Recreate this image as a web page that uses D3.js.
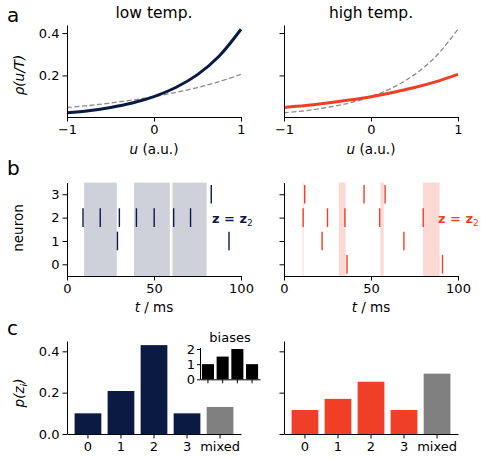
<!DOCTYPE html>
<meta charset="utf-8">
<style>
body { margin: 0; background: #fff; }
svg { display: block; }
text { font-family: "DejaVu Sans", sans-serif; fill: #000; }
.tick text { font-size: 13px; }
.tick line, .domain { stroke: #000; stroke-width: 1; }
.title { font-size: 15.5px; }
.lab { font-size: 13.5px; }
.letter { font-size: 20px; }
</style>
<body>
<script src="https://d3js.org/d3.v7.min.js"></script>
<script>

var navy = "#0b1a42",
    red = "#ef3f26",
    grey = "#808080";

// panel a: firing curves
var uVals = [-1, -0.75, -0.5, -0.25, 0, 0.25, 0.5, 0.75, 1];
var rhoLow = [0.024, 0.034, 0.049, 0.070, 0.100, 0.143, 0.204, 0.292, 0.418];
var rhoHigh = [0.049, 0.058, 0.070, 0.084, 0.100, 0.120, 0.143, 0.171, 0.205];

// panel b: spikes and shaded z = z2 windows
var lowSpikeT = [9.2, 19.1, 30.1, 39.9, 50.1, 61.3, 71, 29, 93.1, 82.9];
var lowSpikeN = [2, 2, 2, 2, 2, 2, 2, 1, 1, 3];
var highSpikeT = [11.9, 46, 58.1, 11, 25, 35, 55, 80, 21.9, 68.9, 36.2, 91.1];
var highSpikeN = [3, 3, 3, 2, 2, 2, 2, 2, 1, 1, 0, 0];
var lowShadeStart = [9.8, 38.5, 60.6], lowShadeEnd = [28.6, 59.1, 80.2];
var highShadeStart = [10.7, 31.5, 55.4, 79.8], highShadeEnd = [11.3, 35.4, 57.3, 89.4];

// panel c: state probabilities
var states = ["0", "1", "2", "3", "mixed"];
var pLow = [0.10, 0.208, 0.43, 0.10, 0.131];
var pHigh = [0.116, 0.17, 0.253, 0.116, 0.292];
var biasIdx = ["0", "1", "2", "3"];
var biases = [1, 1.5, 2, 1];

var svg = d3.select("body").append("svg")
    .attr("width", 481).attr("height", 459);

var cols = [[67, 241], [284, 458]];
var zLabelX = [212, 438];

function styleAxis(g) {
  g.selectAll(".tick text").attr("fill", "#000");
  return g;
}
var minus = function(d) { return d < 0 ? "\u2212" + Math.abs(d) : "" + d; };

/* ------- PANEL a ------- */
var ya = d3.scaleLinear().domain([0.004, 0.438]).range([117, 25]);
[0, 1].forEach(function(c) {
  var x = d3.scaleLinear().domain([-1, 1]).range(cols[c]);
  var g = svg.append("g");
  var line = d3.line().x(function(d, i) { return x(uVals[i]); })
      .y(function(d) { return ya(d); }).curve(d3.curveCatmullRom);
  var main = c == 0 ? rhoLow : rhoHigh, other = c == 0 ? rhoHigh : rhoLow;
  g.append("path").attr("d", line(other)).attr("fill", "none")
      .attr("stroke", "#8c8c8c").attr("stroke-width", 1.3).attr("stroke-dasharray", "5,2.5");
  g.append("path").attr("d", line(main)).attr("fill", "none")
      .attr("stroke", c == 0 ? navy : red).attr("stroke-width", 3);
  g.append("g").attr("transform", "translate(0,117)")
      .call(d3.axisBottom(x).tickValues([-1, 0, 1]).tickFormat(minus).tickSize(4.5).tickSizeOuter(0).tickPadding(3))
      .call(styleAxis);
  g.append("g").attr("transform", "translate(" + cols[c][0] + ",0)")
      .call(d3.axisLeft(ya).tickValues([0.2, 0.4]).tickFormat(c == 0 ? d3.format(".1f") : "").tickSize(4.5).tickSizeOuter(0).tickPadding(3))
      .call(styleAxis);
  var lab = g.append("text").attr("class", "lab").attr("x", (cols[c][0] + cols[c][1]) / 2)
      .attr("y", 154).attr("text-anchor", "middle");
  lab.append("tspan").attr("font-style", "italic").text("u");
  lab.append("tspan").text(" (a.u.)");
  g.append("text").attr("class", "title").attr("x", (cols[c][0] + cols[c][1]) / 2)
      .attr("y", 18).attr("text-anchor", "middle").text(c == 0 ? "low temp." : "high temp.");
});
var yla = svg.append("text").attr("class", "lab").attr("transform", "translate(24,75) rotate(-90)")
    .attr("text-anchor", "middle").attr("font-style", "italic");
yla.append("tspan").text("\u03c1(u/T)");

/* ------- PANEL b ------- */
var yb = d3.scaleLinear().domain([-0.5, 3.5]).range([276, 182.6]);
[0, 1].forEach(function(c) {
  var x = d3.scaleLinear().domain([0, 100]).range(cols[c]);
  var g = svg.append("g");
  var col = c == 0 ? navy : red;
  var s0 = c == 0 ? lowShadeStart : highShadeStart, s1 = c == 0 ? lowShadeEnd : highShadeEnd;
  g.selectAll("rect.shade").data(s0).enter().append("rect")
      .attr("x", function(d) { return x(d); })
      .attr("width", function(d, i) { return x(s1[i]) - x(d); })
      .attr("y", yb(3.5)).attr("height", yb(-0.5) - yb(3.5))
      .attr("fill", col).attr("fill-opacity", 0.2);
  var ts = c == 0 ? lowSpikeT : highSpikeT, ns = c == 0 ? lowSpikeN : highSpikeN;
  g.selectAll("line.spike").data(ts).enter().append("line")
      .attr("x1", function(d) { return x(d); }).attr("x2", function(d) { return x(d); })
      .attr("y1", function(d, i) { return yb(ns[i] - 0.4); })
      .attr("y2", function(d, i) { return yb(ns[i] + 0.4); })
      .attr("stroke", col).attr("stroke-width", 1.4);
  g.append("g").attr("transform", "translate(0,276)")
      .call(d3.axisBottom(x).tickValues([0, 50, 100]).tickSize(4.5).tickSizeOuter(0).tickPadding(3))
      .call(styleAxis);
  g.append("g").attr("transform", "translate(" + cols[c][0] + ",0)")
      .call(d3.axisLeft(yb).tickValues([0, 1, 2, 3]).tickFormat(c == 0 ? d3.format("d") : "").tickSize(4.5).tickSizeOuter(0).tickPadding(3))
      .call(styleAxis);
  var lab = g.append("text").attr("class", "lab").attr("x", (cols[c][0] + cols[c][1]) / 2)
      .attr("y", 312).attr("text-anchor", "middle");
  lab.append("tspan").attr("font-style", "italic").text("t");
  lab.append("tspan").text(" / ms");
  var zt = g.append("text").attr("x", zLabelX[c]).attr("y", 223)
      .attr("font-size", 13).attr("font-weight", "bold").style("fill", col);
  zt.append("tspan").text("z = z");
  zt.append("tspan").attr("font-weight", "normal").attr("font-size", 9).attr("dy", 3).text("2");
});
svg.append("text").attr("class", "lab").attr("transform", "translate(23,228) rotate(-90)")
    .attr("text-anchor", "middle").text("neuron");

/* ------- PANEL c ------- */
var yc = d3.scaleLinear().domain([0, 0.45]).range([434, 341]);
[0, 1].forEach(function(c) {
  var x = d3.scaleBand().domain(states).range(cols[c]).paddingInner(0.19).paddingOuter(0.23);
  var g = svg.append("g");
  var vals = c == 0 ? pLow : pHigh;
  g.selectAll("rect").data(vals).enter().append("rect")
      .attr("x", function(d, i) { return x(states[i]); })
      .attr("width", x.bandwidth())
      .attr("y", function(d) { return yc(d); })
      .attr("height", function(d) { return yc(0) - yc(d); })
      .attr("fill", function(d, i) { return states[i] == "mixed" ? grey : (c == 0 ? navy : red); });
  g.append("g").attr("transform", "translate(0,434)")
      .call(d3.axisBottom(x).tickSize(4.5).tickSizeOuter(0).tickPadding(3))
      .call(styleAxis);
  g.append("g").attr("transform", "translate(" + cols[c][0] + ",0)")
      .call(d3.axisLeft(yc).tickValues([0, 0.2, 0.4]).tickFormat(c == 0 ? d3.format(".1f") : "").tickSize(4.5).tickSizeOuter(0).tickPadding(3))
      .call(styleAxis);
});
var ylc = svg.append("text").attr("class", "lab").attr("transform", "translate(24,393) rotate(-90)")
    .attr("text-anchor", "middle").attr("font-style", "italic");
ylc.append("tspan").text("p(z");
ylc.append("tspan").attr("font-size", 9.5).attr("dy", 3).text("i");
ylc.append("tspan").attr("dy", -3).text(")");

// inset: biases
var xi = d3.scaleBand().domain(biasIdx).range([200, 260]).paddingInner(0.18).paddingOuter(0.13);
var yi = d3.scaleLinear().domain([0, 2.1]).range([379.3, 347.5]);
var gi = svg.append("g");
gi.selectAll("rect").data(biases).enter().append("rect")
    .attr("x", function(d, i) { return xi(biasIdx[i]); })
    .attr("width", xi.bandwidth())
    .attr("y", function(d) { return yi(d); })
    .attr("height", function(d) { return yi(0) - yi(d); })
    .attr("fill", "#000");
gi.append("g").attr("transform", "translate(0,379.3)")
    .call(d3.axisBottom(xi).tickSize(4).tickSizeOuter(0).tickFormat(""));
gi.append("g").attr("transform", "translate(200,0)")
    .call(d3.axisLeft(yi).tickValues([0, 1, 2]).tickFormat(d3.format("d")).tickSize(3).tickSizeOuter(0).tickPadding(2))
    .call(styleAxis);
gi.append("text").attr("x", 230).attr("y", 342).attr("text-anchor", "middle")
    .attr("font-size", 13).text("biases");

// panel letters
svg.append("text").attr("class", "letter").attr("x", 7).attr("y", 22).text("a");
svg.append("text").attr("class", "letter").attr("x", 7).attr("y", 175).text("b");
svg.append("text").attr("class", "letter").attr("x", 7).attr("y", 335).text("c");

</script>
</body>
